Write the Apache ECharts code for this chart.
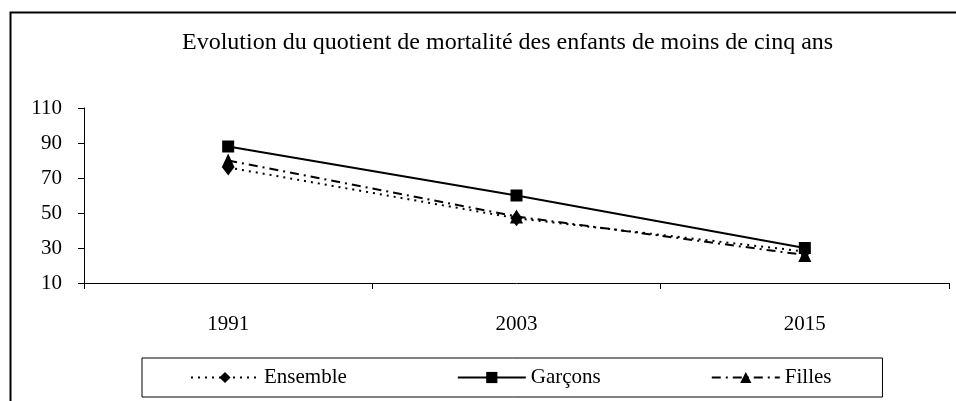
<!DOCTYPE html>
<html>
<head>
<meta charset="utf-8">
<script src="https://cdn.jsdelivr.net/npm/echarts@6/dist/echarts.min.js"></script>
<style>html,body{margin:0;padding:0;background:#fff;}#c{width:956px;height:401px;}</style>
</head>
<body>
<div id="c"></div>
<script>
var titleText = 'Evolution du quotient de mortalité des enfants de moins de cinq ans';
var years = ['1991', '2003', '2015'];
var ensemble = [76, 47, 28];
var garcons = [88, 60, 30];
var filles = [80, 48, 26];
var yTicks = {min: 10, max: 110, interval: 20};

var font = '"Liberation Serif", "Times New Roman", serif';
var chart = echarts.init(document.getElementById('c'), null, {renderer: 'canvas'});
chart.setOption({
  backgroundColor: '#fff',
  animation: false,
  textStyle: {fontFamily: font, color: '#000'},
  graphic: [{
    type: 'rect', left: 8, top: 10, shape: {x: 0, y: 0, width: 1100, height: 500},
    style: {fill: 'none', stroke: '#000', lineWidth: 2}, silent: true, z: -1
  }],
  title: {
    text: titleText, left: 177, top: 26,
    textStyle: {fontFamily: font, fontWeight: 'normal', fontSize: 24, color: '#000'}
  },
  legend: {
    left: 142, top: 358,
    padding: [9, 51, 9, 48],
    itemGap: 110, itemWidth: 68, itemHeight: 14,
    borderColor: '#000', borderWidth: 1,
    textStyle: {fontFamily: font, fontSize: 21, color: '#000'},
    data: ['Ensemble', 'Garçons', 'Filles']
  },
  grid: {left: 84, right: 7, top: 108, bottom: 118, containLabel: false},
  xAxis: {
    type: 'category', data: years, boundaryGap: true,
    axisLine: {lineStyle: {color: '#000', width: 1}},
    axisTick: {show: true, length: 6, lineStyle: {color: '#000'}},
    axisLabel: {fontFamily: font, fontSize: 21, color: '#000', margin: 31},
    splitLine: {show: false}
  },
  yAxis: {
    type: 'value', min: yTicks.min, max: yTicks.max, interval: yTicks.interval,
    axisLine: {show: true, lineStyle: {color: '#000', width: 1}},
    axisTick: {show: true, length: 6, lineStyle: {color: '#000'}},
    axisLabel: {fontFamily: font, fontSize: 21, color: '#000', margin: 22},
    splitLine: {show: false}
  },
  series: [
    {
      name: 'Ensemble', type: 'line', data: ensemble,
      symbol: 'diamond', symbolSize: [12, 16],
      itemStyle: {color: '#000'},
      lineStyle: {color: '#000', width: 2, type: [2, 5]}, z: 3
    },
    {
      name: 'Garçons', type: 'line', data: garcons,
      symbol: 'rect', symbolSize: 12,
      itemStyle: {color: '#000'},
      lineStyle: {color: '#000', width: 1.8, type: 'solid'}, z: 2
    },
    {
      name: 'Filles', type: 'line', data: filles,
      symbol: 'triangle', symbolSize: [13, 14],
      itemStyle: {color: '#000'},
      lineStyle: {color: '#000', width: 2, type: [9, 5, 2, 5]}, z: 2
    }
  ]
});
</script>
</body>
</html>
